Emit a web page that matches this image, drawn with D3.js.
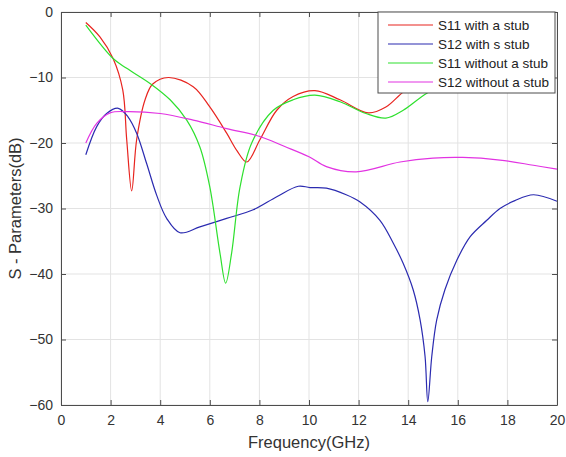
<!DOCTYPE html>
<html>
<head>
  <meta charset="utf-8">
  <script src="https://d3js.org/d3.v7.min.js"></script>
  <style>
    body { margin: 0; background: #fff; }
    text { font-family: "Liberation Sans", Arial, sans-serif; }
  </style>
</head>
<body>
  <div id="my_dataviz"></div>
  <script>
    // data (frequency in GHz, value in dB)
    var s11StubF = [1.0, 1.57, 2.1, 2.49, 2.65, 2.85, 3.05, 3.39, 3.7, 4.33, 5.33, 6.0, 6.68, 7.1, 7.49, 8.02, 8.7, 9.36, 10.24, 11.25, 12.39, 13.1, 13.8, 14.5, 15.5, 17, 18.5, 19.8];
    var s11StubV = [-1.6, -3.8, -7.1, -11.9, -19.5, -27.3, -19.5, -13.4, -11.0, -10.0, -11.4, -14.5, -18.5, -21.2, -22.9, -19.5, -15, -12.9, -12.0, -13.4, -15.4, -14.5, -12.2, -10.5, -9, -7, -6, -5];

    var s12StubF = [1.0, 1.44, 1.84, 2.31, 2.7, 3.05, 3.45, 3.86, 4.26, 4.8, 5.6, 6.68, 7.75, 8.7, 9.57, 10.04, 10.7, 11.5, 12.06, 12.86, 13.4, 13.8, 14.2, 14.48, 14.68, 14.79, 14.95, 15.15, 15.48, 15.96, 16.5, 17.17, 17.7, 18.3, 19.05, 20];
    var s12StubV = [-21.8, -17.5, -15.5, -14.7, -16.0, -18.5, -23.1, -28.0, -31.5, -33.7, -32.8, -31.5, -30.2, -28.2, -26.6, -26.8, -26.9, -27.9, -29.0, -31.8, -35.3, -38.4, -42.4, -47, -52.6, -59.5, -52.6, -47, -42.4, -37.9, -34.3, -31.8, -30.0, -28.8, -27.9, -28.9];

    var s11NoF = [1.0, 2.1, 2.65, 3.59, 4.4, 5.07, 5.6, 6.0, 6.41, 6.64, 6.88, 7.22, 7.69, 8.56, 9.36, 10.24, 11.25, 12.3, 13.1, 13.8, 14.75, 16, 18, 19.8];
    var s11NoV = [-2.0, -7.1, -8.6, -10.9, -13.4, -16.5, -20.6, -26.7, -36.8, -41.4, -36.8, -26.7, -20.0, -15, -13.4, -12.7, -13.7, -15.5, -16.2, -15, -12.4, -10, -8, -7];

    var s12NoF = [1.0, 1.44, 1.98, 2.65, 4.0, 5.33, 6.68, 8.02, 9.0, 10.0, 10.7, 11.9, 13.67, 15.0, 16.2, 17.7, 19.05, 20];
    var s12NoV = [-20.0, -17.0, -15.4, -15.2, -15.5, -16.5, -17.8, -19.0, -20.5, -22.1, -23.6, -24.4, -22.9, -22.3, -22.2, -22.6, -23.4, -24.0];

    var seriesNames = ["S11 with a stub", "S12 with s stub", "S11 without a stub", "S12 without a stub"];
    var seriesColors = ["#e8241f", "#2b2bb0", "#2ee02e", "#e233e2"];
    var xTicks = [0, 2, 4, 6, 8, 10, 12, 14, 16, 18, 20];
    var yTicks = [0, -10, -20, -30, -40, -50, -60];

    var series = [
      d3.zip(s11StubF, s11StubV),
      d3.zip(s12StubF, s12StubV),
      d3.zip(s11NoF, s11NoV),
      d3.zip(s12NoF, s12NoV)
    ];

    var margin = { top: 12, right: 9, bottom: 52, left: 61 },
        width = 566 - margin.left - margin.right,
        height = 457 - margin.top - margin.bottom;

    var svg = d3.select("#my_dataviz")
      .append("svg")
      .attr("width", 566)
      .attr("height", 457)
      .append("g")
      .attr("transform", "translate(" + margin.left + "," + margin.top + ")");

    var x = d3.scaleLinear().domain([0, 20]).range([0, width]);
    var y = d3.scaleLinear().domain([-60, 0]).range([height, 0]);

    // grid
    svg.append("g").selectAll("line").data(xTicks).enter().append("line")
      .attr("x1", d => x(d)).attr("x2", d => x(d))
      .attr("y1", 0).attr("y2", height)
      .style("stroke", "#e3e3e3");
    svg.append("g").selectAll("line").data(yTicks).enter().append("line")
      .attr("y1", d => y(d)).attr("y2", d => y(d))
      .attr("x1", 0).attr("x2", width)
      .style("stroke", "#e3e3e3");

    // lines
    var line = d3.line()
      .x(d => x(d[0]))
      .y(d => y(d[1]))
      .curve(d3.curveCatmullRom.alpha(0.5));

    svg.append("g").selectAll("path").data(series).enter().append("path")
      .attr("d", line)
      .style("fill", "none")
      .style("stroke", (d, i) => seriesColors[i])
      .style("stroke-width", 1.2);

    // axes, matlab style box with inner ticks
    var axColor = "#4d4d4d";
    var axBottom = svg.append("g").attr("transform", "translate(0," + height + ")")
      .call(d3.axisBottom(x).tickValues(xTicks).tickSizeInner(-5).tickSizeOuter(0).tickPadding(10));
    var axLeft = svg.append("g")
      .call(d3.axisLeft(y).tickValues(yTicks).tickSizeInner(-5).tickSizeOuter(0).tickPadding(8));
    var axTop = svg.append("g")
      .call(d3.axisTop(x).tickValues(xTicks).tickSizeInner(-5).tickSizeOuter(0).tickFormat(""));
    var axRight = svg.append("g").attr("transform", "translate(" + width + ",0)")
      .call(d3.axisRight(y).tickValues(yTicks).tickSizeInner(-5).tickSizeOuter(0).tickFormat(""));

    [axBottom, axLeft, axTop, axRight].forEach(function(a) {
      a.select(".domain").style("stroke", axColor);
      a.selectAll(".tick line").style("stroke", axColor);
      a.selectAll(".tick text")
        .style("fill", "#333")
        .style("font-size", "14px")
        .style("font-family", "'Liberation Sans', Arial, sans-serif");
    });

    // axis labels
    svg.append("text")
      .attr("x", width / 2)
      .attr("y", height + 43)
      .style("text-anchor", "middle")
      .style("font-size", "16.5px")
      .style("fill", "#333")
      .text("Frequency(GHz)");

    svg.append("text")
      .attr("transform", "rotate(-90)")
      .attr("x", -height / 2)
      .attr("y", -40)
      .style("text-anchor", "middle")
      .style("font-size", "16.5px")
      .style("fill", "#333")
      .text("S - Parameters(dB)");

    // legend
    var lg = svg.append("g").attr("transform", "translate(" + (378 - margin.left) + ",0)");
    lg.append("rect")
      .attr("width", 177).attr("height", 81)
      .style("fill", "#fff")
      .style("stroke", axColor);
    seriesNames.forEach(function(name, i) {
      var yy = 13 + i * 19;
      lg.append("line")
        .attr("x1", 10).attr("x2", 55)
        .attr("y1", yy).attr("y2", yy)
        .style("stroke", seriesColors[i])
        .style("stroke-width", 1.2);
      lg.append("text")
        .attr("x", 60).attr("y", yy + 5)
        .style("font-size", "13.5px")
        .style("fill", "#222")
        .text(name);
    });
  </script>
</body>
</html>
